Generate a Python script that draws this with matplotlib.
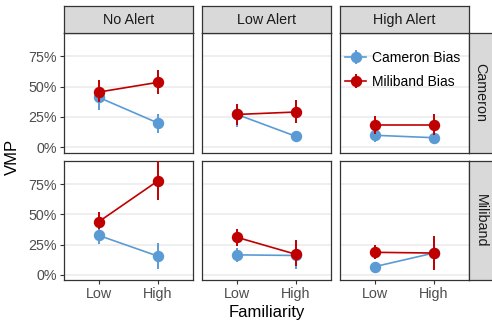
import matplotlib
matplotlib.use("Agg")
import matplotlib.pyplot as plt
import numpy as np

plt.rcParams['font.family'] = ['Liberation Sans', 'DejaVu Sans']

alerts = ["No Alert", "Low Alert", "High Alert"]
candidates = ["Cameron", "Miliband"]
familiarity = ["Low", "High"]
series_names = ["Cameron Bias", "Miliband Bias"]
y_ticks = [0, 0.25, 0.5, 0.75]
y_tick_labels = ["0%", "25%", "50%", "75%"]

# Cameron row: [No Alert, Low Alert, High Alert] -> [Low, High]
cam_row_cambias = [[0.41, 0.20], [0.27, 0.09], [0.098, 0.078]]
cam_row_cambias_lo = [[0.31, 0.12], [0.17, 0.042], [0.04, 0.03]]
cam_row_cambias_hi = [[0.47, 0.27], [0.35, 0.125], [0.15, 0.13]]
cam_row_milbias = [[0.455, 0.535], [0.27, 0.29], [0.187, 0.187]]
cam_row_milbias_lo = [[0.37, 0.44], [0.18, 0.20], [0.11, 0.10]]
cam_row_milbias_hi = [[0.553, 0.637], [0.36, 0.39], [0.256, 0.27]]

# Miliband row
mil_row_cambias = [[0.325, 0.155], [0.165, 0.16], [0.068, 0.18]]
mil_row_cambias_lo = [[0.254, 0.047], [0.11, 0.047], [0.04, 0.06]]
mil_row_cambias_hi = [[0.40, 0.265], [0.22, 0.28], [0.10, 0.30]]
mil_row_milbias = [[0.44, 0.775], [0.31, 0.17], [0.186, 0.18]]
mil_row_milbias_lo = [[0.38, 0.615], [0.24, 0.07], [0.13, 0.04]]
mil_row_milbias_hi = [[0.516, 0.96], [0.38, 0.29], [0.246, 0.32]]

data = {
    "Cameron": [(cam_row_cambias, cam_row_cambias_lo, cam_row_cambias_hi),
                (cam_row_milbias, cam_row_milbias_lo, cam_row_milbias_hi)],
    "Miliband": [(mil_row_cambias, mil_row_cambias_lo, mil_row_cambias_hi),
                 (mil_row_milbias, mil_row_milbias_lo, mil_row_milbias_hi)],
}
colors = ["#5B9BD5", "#C00000"]

W, H = 492, 326
fig = plt.figure(figsize=(W / 100, H / 100), dpi=100)

panel_x = [63.7, 201.7, 339.7]
panel_w = 129.3
row_y = [33.3, 161.0]
panel_h = 119.3
strip_h = 27.3
strip_w = 27.0

def fr(x, y, w, h):
    return [x / W, 1 - (y + h) / H, w / W, h / H]

border = "#333333"
axes_grid = {}
for r, cand in enumerate(candidates):
    for c, alert in enumerate(alerts):
        ax = fig.add_axes(fr(panel_x[c], row_y[r], panel_w, panel_h))
        axes_grid[(r, c)] = ax
        x = np.arange(len(familiarity)) + 1
        for s in range(2):
            vals, lo, hi = data[cand][s]
            v = np.array(vals[c]); l = np.array(lo[c]); h = np.array(hi[c])
            ax.errorbar(x, v, yerr=[v - l, h - v], color=colors[s], lw=1.2,
                        elinewidth=1.4, capsize=0, marker="o", markersize=7.2,
                        label=series_names[s], zorder=3 + s)
        ax.set_xlim(0.4, 2.6)
        ax.set_ylim(-0.045, 0.94)
        ax.set_yticks(y_ticks)
        ax.set_xticks(x)
        ax.grid(axis="y", color="#EBEBEB", lw=1.1)
        ax.set_axisbelow(True)
        for sp in ax.spines.values():
            sp.set_color(border)
            sp.set_linewidth(0.9)
        ax.tick_params(axis="both", length=2.8, width=0.8, color=border,
                       labelsize=10.3, labelcolor="#4D4D4D", pad=2)
        if c == 0:
            ax.set_yticklabels(y_tick_labels)
        else:
            ax.tick_params(axis="y", length=0, labelleft=False)
        if r == 1:
            ax.set_xticklabels(familiarity)
        else:
            ax.tick_params(axis="x", labelbottom=False, length=0)

        if r == 0:
            sax = fig.add_axes(fr(panel_x[c], row_y[0] - strip_h, panel_w, strip_h))
            sax.set_facecolor("#D9D9D9")
            sax.set_xticks([]); sax.set_yticks([])
            for sp in sax.spines.values():
                sp.set_color(border); sp.set_linewidth(0.9)
            sax.text(0.5, 0.5, alert, ha="center", va="center", fontsize=10.3,
                     color="#1A1A1A", transform=sax.transAxes)
        if c == 2:
            sax = fig.add_axes(fr(panel_x[2] + panel_w, row_y[r], strip_w, panel_h))
            sax.set_facecolor("#D9D9D9")
            sax.set_xticks([]); sax.set_yticks([])
            for sp in sax.spines.values():
                sp.set_color(border); sp.set_linewidth(0.9)
            sax.text(0.43, 0.5, cand, ha="center", va="center", fontsize=10.3,
                     rotation=270, color="#1A1A1A", transform=sax.transAxes)

leg_ax = axes_grid[(0, 2)]
leg = leg_ax.legend(loc="upper left", bbox_to_anchor=(-0.035, 0.935), frameon=False,
                    fontsize=10.0, handlelength=1.55, handletextpad=0.4,
                    labelspacing=0.75, borderaxespad=0.3)

fig.text((panel_x[0] + panel_x[2] + panel_w) / 2 / W, 1 - 313 / H, "Familiarity",
         ha="center", va="center", fontsize=12)
fig.text(12 / W, 1 - 157 / H, "VMP", ha="center", va="center", fontsize=12,
         rotation=90)

fig.savefig("out.png", dpi=100)
